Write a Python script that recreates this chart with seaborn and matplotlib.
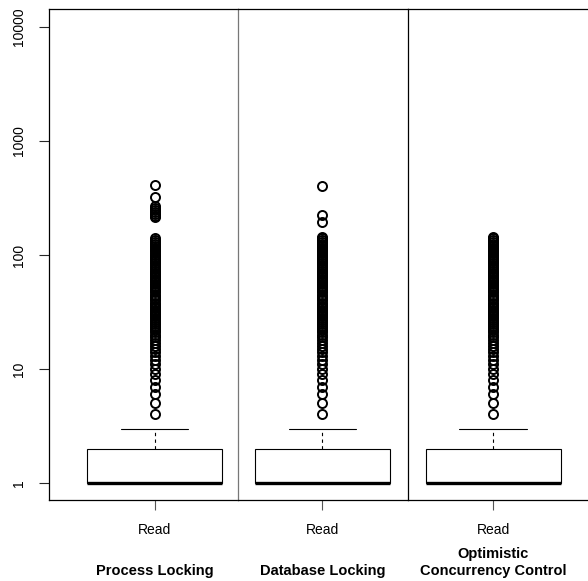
import numpy as np
import pandas as pd
import matplotlib
matplotlib.use("Agg")
import matplotlib.pyplot as plt
import seaborn as sns

# values (read latency counts, log scale)
groups = ["Process Locking", "Database Locking", "Optimistic\nConcurrency Control"]
core_values = [1, 2, 3]
core_counts = [500, 300, 100]

common_outliers = [4, 5, 6, 7, 8, 9, 10, 11, 12, 13, 14, 15, 16, 17, 18, 19, 20, 21,
                   22, 23, 24, 25, 26, 27, 28, 29, 30, 31, 32, 33, 34, 35, 36, 37, 38,
                   40, 41, 42, 44, 45, 47, 48, 50, 52, 54, 56, 58, 60, 62, 64, 66, 68,
                   70, 73, 76, 79, 82, 85, 88, 91, 94, 97, 100, 104, 108, 112, 116,
                   120, 125, 130, 135, 140]
extra_pl = [215, 222, 230, 240, 250, 260, 270, 323, 413]
extra_dl = [144, 195, 224, 403]
extra_occ = [144]

outliers = [common_outliers + extra_pl,
            common_outliers + extra_dl,
            common_outliers + extra_occ]

frames = []
for g, extra in zip(groups, outliers):
    vals = list(np.repeat(core_values, core_counts)) + extra
    frames.append(pd.DataFrame({"group": g, "value": vals}))
df = pd.concat(frames, ignore_index=True)

sns.set_style("ticks")
plt.rcParams["font.family"] = ["Liberation Sans", "DejaVu Sans"]
plt.rcParams["text.color"] = "black"
plt.rcParams["xtick.labelcolor"] = "black"
plt.rcParams["ytick.labelcolor"] = "black"

W, H = 588, 581
fig = plt.figure(figsize=(W / 100, H / 100), dpi=100)

panels = [(49, 238, (-0.625, 0.494)),
          (238, 408, (-0.501, 0.507)),
          (408, 588, (-0.504, 0.563))]
bottom, top = 500, 9

axes = []
for i, (g, (x0, x1, xl)) in enumerate(zip(groups, panels)):
    ax = fig.add_axes([x0 / W, (H - bottom) / H, (x1 - x0) / W, (bottom - top) / H],
                      sharey=axes[0] if axes else None)
    sub = df[df["group"] == g]
    sns.boxplot(y=sub["value"], ax=ax, width=0.8, color="white", linecolor="black",
                linewidth=0.8,
                medianprops={"linewidth": 2.4, "color": "black"},
                whiskerprops={"linestyle": (0, (3, 3)), "linewidth": 0.8},
                capprops={"linewidth": 0.8},
                flierprops={"marker": "o", "markersize": 6.5, "markerfacecolor": "none",
                            "markeredgecolor": "black", "markeredgewidth": 1.4})
    ax.set_xlim(*xl)
    ax.set_xticks([0])
    ax.set_xticklabels(["Read"], fontsize=10)
    ax.set_xlabel("")
    ax.set_ylabel("")
    ax.tick_params(axis="x", length=7.5, width=0.8, pad=9, color="#555555")
    for s in ax.spines.values():
        s.set_linewidth(0.9)
        s.set_color("black")
    ax.spines["right"].set_visible(False)
    if i == 1:
        ax.spines["left"].set_color("#777777")
    xc = fig.transFigure.inverted().transform(ax.transData.transform((0, 1)))[0]
    fig.text(xc, 1 - 578 / H, g, ha="center", va="bottom", fontsize=10.5,
             fontweight="bold", linespacing=1.25, color="black")
    axes.append(ax)

ax0 = axes[0]
ax0.set_yscale("log")
ax0.set_ylim(0.709, 14390)
ax0.set_yticks([1, 10, 100, 1000, 10000])
ax0.set_yticklabels(["1", "10", "100", "1000", "10000"], fontsize=10)
ax0.yaxis.set_minor_locator(matplotlib.ticker.NullLocator())
ax0.tick_params(axis="y", length=7.5, width=0.8, pad=9, labelrotation=90)
for lbl in ax0.get_yticklabels():
    lbl.set_va("center")
for ax in axes[1:]:
    ax.tick_params(axis="y", left=False, labelleft=False)

fig.savefig("out.png", dpi=100)
